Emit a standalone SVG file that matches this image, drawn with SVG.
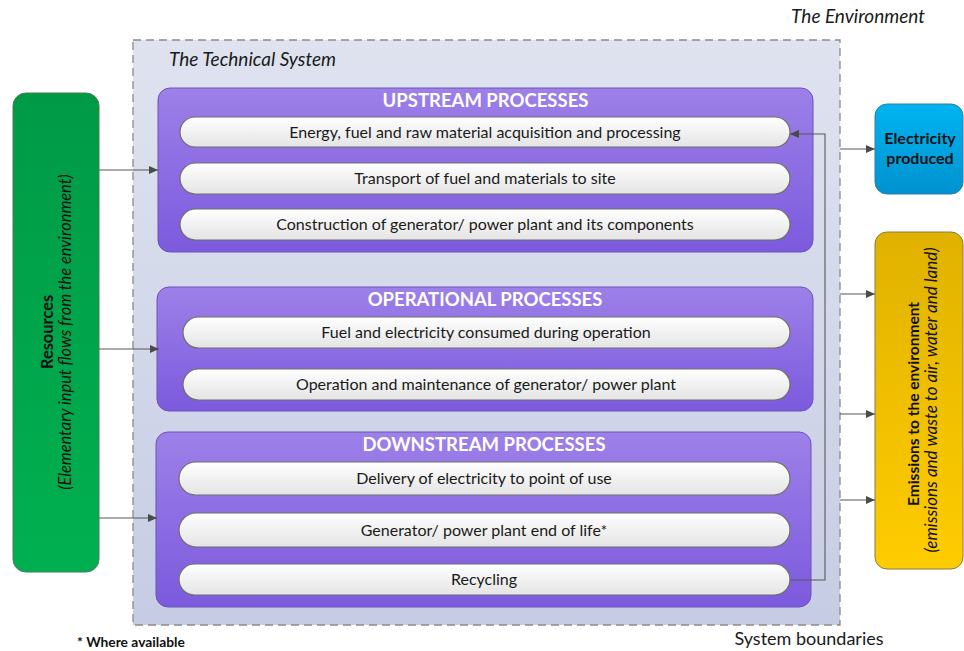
<svg xmlns="http://www.w3.org/2000/svg" width="964" height="651" viewBox="0 0 964 651">
<defs>
<linearGradient id="gBg" x1="0" y1="0" x2="0" y2="1"><stop offset="0" stop-color="#dfe3f0"/><stop offset="1" stop-color="#c6cce4"/></linearGradient>
<linearGradient id="gPur" x1="0" y1="0" x2="0" y2="1"><stop offset="0" stop-color="#9d80e8"/><stop offset="1" stop-color="#7c5ade"/></linearGradient>
<linearGradient id="gPill" x1="0" y1="0" x2="0" y2="1"><stop offset="0" stop-color="#ffffff"/><stop offset="1" stop-color="#e4e4e4"/></linearGradient>
<linearGradient id="gGreen" x1="0" y1="0" x2="0" y2="1"><stop offset="0" stop-color="#009a46"/><stop offset="1" stop-color="#00b050"/></linearGradient>
<linearGradient id="gBlue" x1="0" y1="0" x2="0" y2="1"><stop offset="0" stop-color="#00b4f0"/><stop offset="1" stop-color="#0092d0"/></linearGradient>
<linearGradient id="gYel" x1="0" y1="0" x2="0" y2="1"><stop offset="0" stop-color="#e0b200"/><stop offset="1" stop-color="#ffcc00"/></linearGradient>
<marker id="arr" markerWidth="9" markerHeight="8" refX="9" refY="4" orient="auto" markerUnits="userSpaceOnUse"><path d="M0,0 L9,4 L0,8 Z" fill="#4a4a4a"/></marker>
<style>
text{font-family:Lato,"Open Sans","Liberation Sans",sans-serif;}
.grp{fill:url(#gPur);stroke:#6a52b8;stroke-width:1;}
.pill{fill:url(#gPill);stroke:#6e6e6e;stroke-width:1.2;}
.pt{font-size:16px;fill:#1a1a1a;text-anchor:middle;}
.hd{font-size:18.5px;font-weight:bold;fill:#ffffff;text-anchor:middle;}
.con{fill:none;stroke:#595959;stroke-width:1.1;}
.lbl{font-size:19px;font-style:italic;fill:#1a1a1a;}
.bt{font-weight:bold;fill:#111;text-anchor:middle;}
.it{font-style:italic;fill:#111;text-anchor:middle;}
</style>
</defs>
<rect width="964" height="651" fill="#ffffff"/>

<g id="system-boundary">
<rect x="133" y="40" width="707" height="585" fill="url(#gBg)" stroke="#8a8a8a" stroke-width="1.3" stroke-dasharray="8,5"/>
<text class="lbl" x="169" y="66">The Technical System</text>
</g>
<text class="lbl" x="925" y="23" text-anchor="end">The Environment</text>
<text x="809" y="645" font-size="18" fill="#1a1a1a" text-anchor="middle">System boundaries</text>
<text x="77" y="647" font-size="13.8" font-weight="bold" fill="#111">* Where available</text>

<g id="resources">
<rect x="13" y="93" width="86" height="479" rx="13" fill="url(#gGreen)" stroke="#4a7a5a" stroke-width="1"/>
<text class="bt" font-size="16.4" transform="translate(53,332) rotate(-90)">Resources</text>
<text class="it" font-size="16.4" transform="translate(71,332) rotate(-90)">(Elementary input flows from the environment)</text>
</g>

<g id="electricity">
<rect x="875" y="104" width="88" height="90" rx="12" fill="url(#gBlue)" stroke="#3a7aa0" stroke-width="1"/>
<text class="bt" font-size="16" x="920" y="144">Electricity</text>
<text class="bt" font-size="16" x="920" y="164">produced</text>
</g>

<g id="emissions">
<rect x="875" y="232" width="88" height="337" rx="12" fill="url(#gYel)" stroke="#8a7a40" stroke-width="1"/>
<text class="bt" font-size="15.5" transform="translate(919,404) rotate(-90)">Emissions to the environment</text>
<text class="it" font-size="17" transform="translate(937,400) rotate(-90)">(emissions and waste to air, water and land)</text>
</g>

<g id="upstream">
<rect class="grp" x="158" y="88" width="655" height="164" rx="12"/>
<text class="hd" x="485.5" y="107">UPSTREAM PROCESSES</text>
<rect class="pill" x="180" y="117" width="610" height="30" rx="15"/>
<text class="pt" x="485" y="137.5">Energy, fuel and raw material acquisition and processing</text>
<rect class="pill" x="180" y="163" width="610" height="31" rx="15.5"/>
<text class="pt" x="485" y="184">Transport of fuel and materials to site</text>
<rect class="pill" x="180" y="209" width="610" height="31" rx="15.5"/>
<text class="pt" x="485" y="230">Construction of generator/ power plant and its components</text>
</g>

<g id="operational">
<rect class="grp" x="157" y="287" width="656" height="124" rx="12"/>
<text class="hd" x="485" y="306">OPERATIONAL PROCESSES</text>
<rect class="pill" x="183" y="317" width="607" height="31" rx="15.5"/>
<text class="pt" x="486" y="338">Fuel and electricity consumed during operation</text>
<rect class="pill" x="183" y="369" width="607" height="31" rx="15.5"/>
<text class="pt" x="486" y="390">Operation and maintenance of generator/ power plant</text>
</g>

<g id="downstream">
<rect class="grp" x="156" y="432" width="655" height="175" rx="12"/>
<text class="hd" x="484" y="451">DOWNSTREAM PROCESSES</text>
<rect class="pill" x="179" y="462" width="611" height="33" rx="16.5"/>
<text class="pt" x="484" y="484">Delivery of electricity to point of use</text>
<rect class="pill" x="179" y="513" width="611" height="34" rx="17"/>
<text class="pt" x="484" y="535.5">Generator/ power plant end of life*</text>
<rect class="pill" x="179" y="564" width="611" height="31" rx="15.5"/>
<text class="pt" x="484" y="585">Recycling</text>
</g>

<g id="connectors">
<path class="con" d="M99,170 H158" marker-end="url(#arr)"/>
<path class="con" d="M99,349 H159" marker-end="url(#arr)"/>
<path class="con" d="M99,518 H157" marker-end="url(#arr)"/>
<path class="con" d="M790,580 H825 V134 H790" marker-end="url(#arr)"/>
<path class="con" d="M840,149 H875" marker-end="url(#arr)"/>
<path class="con" d="M840,294 H875" marker-end="url(#arr)"/>
<path class="con" d="M840,414 H875" marker-end="url(#arr)"/>
<path class="con" d="M840,500 H875" marker-end="url(#arr)"/>
</g>
</svg>
